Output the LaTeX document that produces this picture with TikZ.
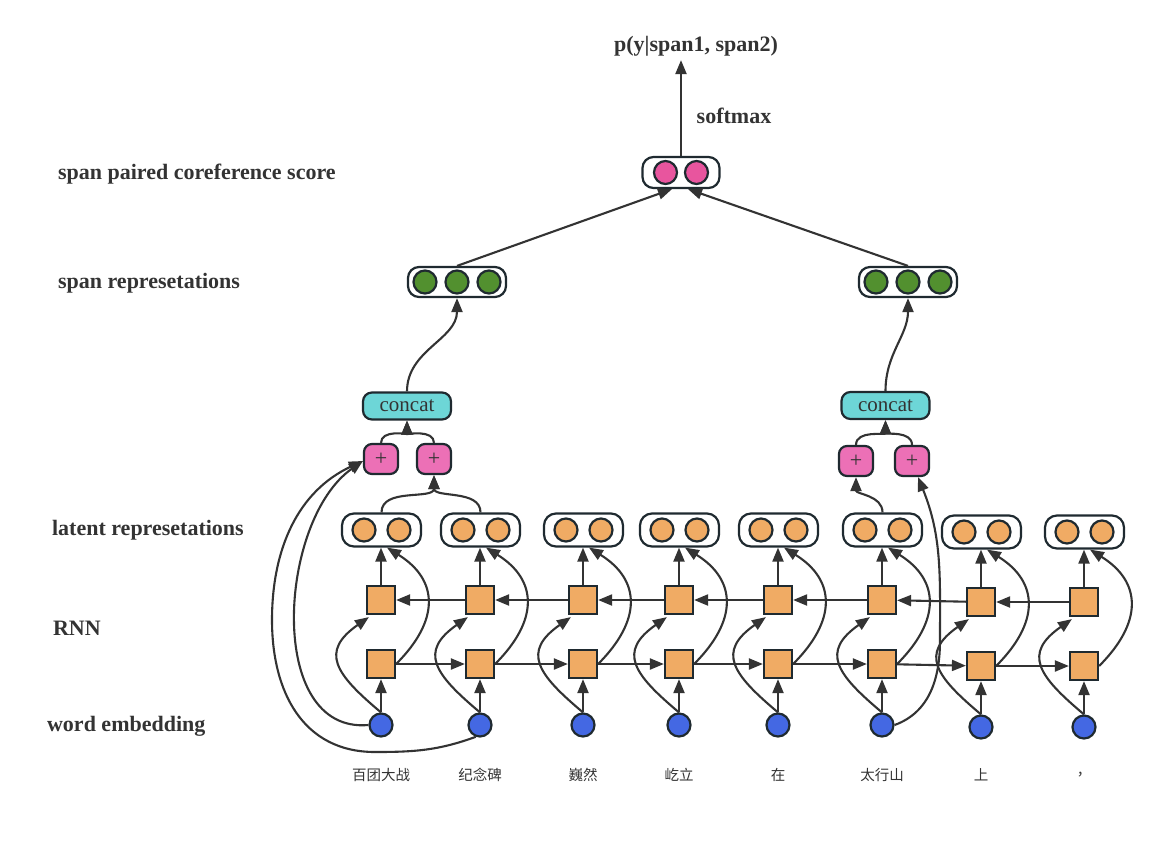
\documentclass[tikz,border=0pt]{standalone}
\usepackage{fontspec}
\setmainfont{Liberation Serif}
\newfontfamily\cjk{Noto Sans CJK SC}
\usetikzlibrary{arrows.meta,calc}
\definecolor{lineC}{HTML}{333333}
\definecolor{edgeC}{HTML}{1F2A30}
\definecolor{textC}{HTML}{333333}
\definecolor{orangeC}{HTML}{F0AB64}
\definecolor{blueC}{HTML}{4468E3}
\definecolor{greenC}{HTML}{52902F}
\definecolor{pinkC}{HTML}{E8559E}
\definecolor{plusC}{HTML}{EC70B6}
\definecolor{cyanC}{HTML}{6DD6D7}
\begin{document}
\begin{tikzpicture}[x=1pt,y=1pt,
  every node/.style={line width=2.2pt},
  lbl/.style={font=\fontsize{22}{26}\selectfont\bfseries, text=textC, anchor=west, inner sep=0pt},
  toplbl/.style={font=\fontsize{22}{26}\selectfont\bfseries, text=textC, inner sep=0pt},
  word/.style={font=\cjk\fontsize{14.5}{17}\selectfont, text=textC, inner sep=0pt},
  emb/.style={circle, draw=edgeC, fill=blueC, minimum size=23pt, inner sep=0pt},
  rnn/.style={rectangle, draw=edgeC, fill=orangeC, minimum size=28pt, inner sep=0pt},
  vecbox/.style={draw=edgeC, fill=white, rounded corners=12pt, minimum height=33pt, inner sep=0pt},
  dot/.style={circle, draw=edgeC, minimum size=23pt, inner sep=0pt},
  plusbox/.style={draw=edgeC, fill=plusC, rounded corners=8pt, minimum width=34pt, minimum height=30pt, inner sep=0pt, font=\fontsize{22}{22}\selectfont, text=textC},
  concatbox/.style={draw=edgeC, fill=cyanC, rounded corners=9pt, minimum width=88pt, minimum height=27pt, inner sep=0pt, font=\fontsize{21}{21}\selectfont, text=textC},
  conn/.style={draw=lineC, line width=2.1pt},
  arr/.style={conn, -{Triangle[length=14pt,width=11pt]}}
]
\useasboundingbox (0,0) rectangle (1172,-849);

% row labels
\node[lbl] (lscore) at (57,-174) {span paired coreference score};
\node[lbl] (lspan) at (57,-283) {span represetations};
\node[lbl] (llat) at (51,-530) {latent represetations};
\node[lbl] (lrnn) at (52,-628) {RNN};
\node[lbl] (lword) at (46,-726) {word embedding};

% top output
\node[toplbl] (PL) at (696,-46) {p(y|span1, span2)};
\node[toplbl] (SM) at (734,-116) {softmax};
\node[vecbox, minimum width=77pt, minimum height=31pt, rounded corners=11pt] (SC) at (681,-172.5) {};
\node[dot, fill=pinkC] (SCa) at (665.5,-172.5) {};
\node[dot, fill=pinkC] (SCb) at (696.5,-172.5) {};

% span representations
\node[vecbox, minimum width=98pt, minimum height=30pt, rounded corners=11pt] (S1) at (457,-282) {};
\node[dot, fill=greenC] (S1a) at (425,-282) {};
\node[dot, fill=greenC] (S1b) at (457,-282) {};
\node[dot, fill=greenC] (S1c) at (489,-282) {};
\node[vecbox, minimum width=98pt, minimum height=30pt, rounded corners=11pt] (S2) at (908,-282) {};
\node[dot, fill=greenC] (S2a) at (876,-282) {};
\node[dot, fill=greenC] (S2b) at (908,-282) {};
\node[dot, fill=greenC] (S2c) at (940,-282) {};

% concat and plus
\node[concatbox] (C1) at (407,-406) {concat};
\node[plusbox] (P1) at (381,-459) {+};
\node[plusbox] (P2) at (434,-459) {+};
\node[concatbox] (C2) at (885.5,-405.5) {concat};
\node[plusbox] (P3) at (856,-461) {+};
\node[plusbox] (P4) at (912,-461) {+};

% columns
\foreach \x/\d/\w [count=\i] in {381/0/百团大战,480/0/纪念碑,583/0/巍然,679/0/屹立,778/0/在,882/0/太行山,981/2/上,1084/2/，}{
  \node[emb] (W\i) at (\x,-725-\d) {};
  \node[rnn] (B\i) at (\x,-664-\d) {};
  \node[rnn] (T\i) at (\x,-600-\d) {};
  \node[vecbox, minimum width=79pt] (L\i) at (\x+0.5,-530-\d) {};
  \node[dot, fill=orangeC] (La\i) at (\x-17,-530-\d) {};
  \node[dot, fill=orangeC] (Lb\i) at (\x+18,-530-\d) {};
  \node[word] (N\i) at (\x,-775) {\w};
}

% column connectors
\foreach \i in {1,...,8}{
  \draw[arr] (W\i) -- (B\i);
  \draw[arr] (T\i.north) -- (T\i.north |- L\i.south);
  \draw[arr] (W\i.north) to[out=140,in=-145,looseness=1.6] ($(T\i.south west)+(3,-2)$);
  \draw[arr] (B\i.east) to[out=45,in=-32,looseness=1.35] ($(L\i.south)+(5.5,0)$);
}
\foreach \i/\j in {1/2,2/3,3/4,4/5,5/6,6/7,7/8}{
  \draw[arr] (B\i) -- (B\j);
  \draw[arr] (T\j) -- (T\i);
}

% left span
\draw[arr] (L1.north) to[out=90,in=-90] (P2.south);
\draw[arr] (L2.north) to[out=90,in=-90] (P2.south);
\draw[arr] (P1.north) to[out=90,in=-90] (C1.south);
\draw[arr] (P2.north) to[out=90,in=-90] (C1.south);
\draw[arr] (C1.north) to[out=90,in=-90] (S1.south);
\coordinate (o1) at (375,-752);
\coordinate (o2) at (272,-620);
\draw[arr] (W1.west) to[out=185,in=-145] ($(P1.west)+(0,-2)$);
\draw[arr] (W2.250) to[out=200,in=0] (o1) to[out=180,in=-90,looseness=1.1] (o2) to[out=90,in=-155] ($(P1.west)+(0,-2)$);

% right span
\draw[arr] (L6.north) to[out=90,in=-90] (P3.south);
\draw[arr] (P3.north) to[out=90,in=-90] (C2.south);
\draw[arr] (P4.north) to[out=90,in=-90] (C2.south);
\draw[arr] (C2.north) to[out=90,in=-90] (S2.south);
\coordinate (o3) at (940,-640);
\draw[arr] (W6.east) to[out=20,in=-90] (o3) to[out=90,in=-68] ($(P4.south)+(6,0)$);

% score
\draw[arr] (S1.north) -- ($(SC.south)+(-9,0)$);
\draw[arr] (S2.north) -- ($(SC.south)+(7,0)$);
\draw[arr] (SC.north) -- ($(SC.north |- PL.south)+(0,-3)$);
\end{tikzpicture}
\end{document}
